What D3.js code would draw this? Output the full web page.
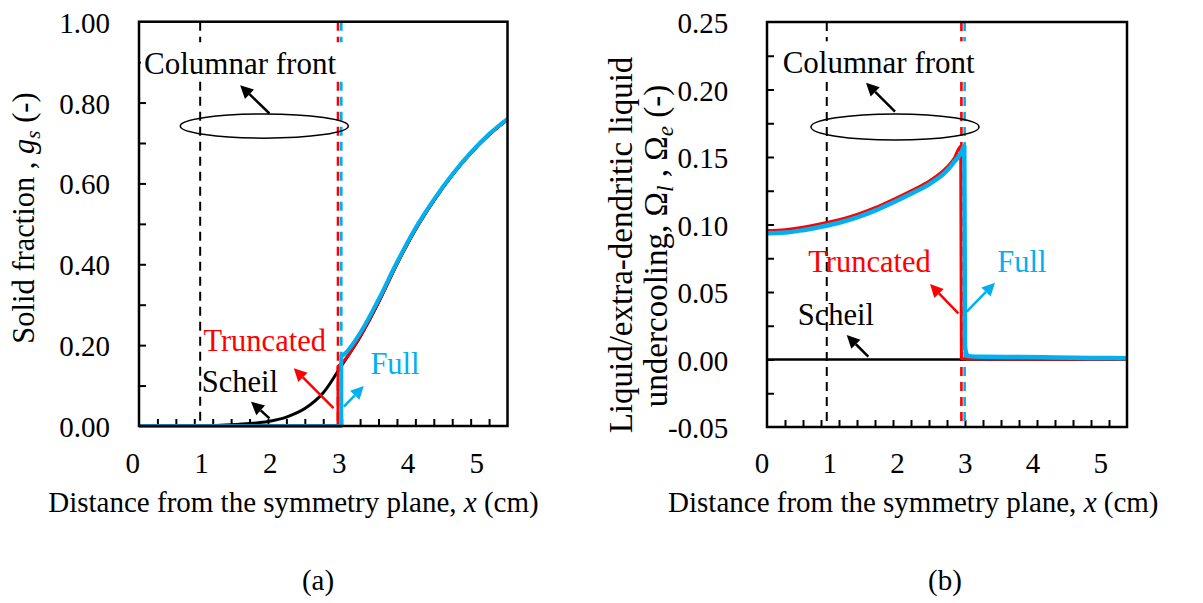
<!DOCTYPE html>
<html>
<head>
<meta charset="utf-8">
<script src="https://cdn.jsdelivr.net/npm/d3@7"></script>
<style>
  html, body { margin: 0; padding: 0; background: #fff; }
  svg { display: block; font-family: "Liberation Serif", "Times New Roman", serif; }
</style>
</head>
<body>
<svg id="fig" width="1203" height="603"></svg>
<script>
// ---------- axis ticks ----------
const xLabels = [0, 1, 2, 3, 4, 5];
const xMarks = [0.25, 0.5, 0.75, 1, 1.25, 1.5, 1.75, 2, 2.25, 2.5, 2.75, 3, 3.25, 3.5, 3.75, 4, 4.25, 4.5, 4.75];
const gsLabels = [0, 0.2, 0.4, 0.6, 0.8, 1.0];
const gsMarks = [0.1, 0.2, 0.3, 0.4, 0.5, 0.6, 0.7, 0.8, 0.9];
const omLabels = [-0.05, 0, 0.05, 0.10, 0.15, 0.20, 0.25];
const omMarks = [-0.025, 0, 0.025, 0.05, 0.075, 0.10, 0.125, 0.15, 0.175, 0.20, 0.225];

// ---------- (a) solid fraction ----------
const scheilX  = [0, 0.5, 1.0, 1.25, 1.5, 1.75, 2.0, 2.25, 2.5, 2.75, 3.0, 3.25, 3.5, 3.75, 4.0, 4.25, 4.5, 4.75, 5.0];
const scheilGs = [0, 0, 0.001, 0.003, 0.006, 0.011, 0.022, 0.043, 0.082, 0.150, 0.220, 0.305, 0.400, 0.485, 0.557, 0.620, 0.674, 0.720, 0.758];
const truncX  = [0, 2.70, 2.70, 2.75, 3.0, 3.25, 3.5, 3.75, 4.0, 4.25, 4.5, 4.75, 5.0];
const truncGs = [0, 0, 0.148, 0.155, 0.222, 0.307, 0.401, 0.486, 0.558, 0.621, 0.675, 0.721, 0.758];
const fullX  = [0, 2.745, 2.745, 2.8, 3.0, 3.25, 3.5, 3.75, 4.0, 4.25, 4.5, 4.75, 5.0];
const fullGs = [0, 0, 0.172, 0.180, 0.230, 0.313, 0.405, 0.489, 0.560, 0.622, 0.676, 0.722, 0.760];

// ---------- (b) undercooling ----------
const scheilOmX = [0, 5];
const scheilOm  = [0, 0];
const truncOmX = [0, 0.25, 0.5, 0.75, 1.0, 1.25, 1.5, 1.75, 2.0, 2.25, 2.5, 2.6, 2.69, 2.70, 5.0];
const truncOm  = [0.0955, 0.0962, 0.098, 0.1005, 0.1035, 0.1075, 0.1125, 0.1185, 0.125, 0.132, 0.1425, 0.149, 0.158, 0.0005, 0.0003];
const fullOmX = [0, 0.25, 0.5, 0.75, 1.0, 1.25, 1.5, 1.75, 2.0, 2.25, 2.5, 2.6, 2.7, 2.74, 2.75, 2.77, 2.8, 3.0, 3.5, 4.0, 4.5, 5.0];
const fullOm  = [0.0935, 0.094, 0.0958, 0.0983, 0.1013, 0.1053, 0.1103, 0.1163, 0.1228, 0.1298, 0.1400, 0.1465, 0.1535, 0.158, 0.010, 0.004, 0.0025, 0.002, 0.0018, 0.0015, 0.0012, 0.0009];

// columnar front positions (Scheil / truncated / full)
const frontX = [0.83, 2.70, 2.745];

const BLUE = "#00b0f0", RED = "#ff0000", BLACK = "#000";
const svg = d3.select("#fig");
const fmt2 = d => d.toFixed(2);

// Builds one path; equal consecutive x values become straight vertical steps,
// everything else is drawn as a smooth monotone curve.
function seriesPath(xs, ys, x, y) {
  const pts = xs.map((v, i) => [x(v), y(ys[i])]);
  const runs = [];
  let run = [pts[0]];
  for (let i = 1; i < pts.length; i++) {
    if (xs[i] === xs[i - 1]) {
      runs.push(run);
      runs.push([pts[i - 1], pts[i]]);
      run = [pts[i]];
    } else run.push(pts[i]);
  }
  runs.push(run);
  const gen = d3.line().curve(d3.curveMonotoneX);
  let d = "";
  runs.forEach(r => {
    if (r.length < 2) return;
    const s = gen(r);
    d += d ? s.replace(/^M/, "L") : s;
  });
  return d;
}

function arrow(g, x, y, a, color) {
  const x1 = x(a[0]), y1 = y(a[1]), x2 = x(a[2]), y2 = y(a[3]);
  const ang = Math.atan2(y2 - y1, x2 - x1);
  const L = 13, W = 6.5;
  const bx = x2 - L * Math.cos(ang), by = y2 - L * Math.sin(ang);
  g.append("line").attr("x1", x1).attr("y1", y1).attr("x2", bx).attr("y2", by)
    .attr("stroke", color).attr("stroke-width", 2.5);
  g.append("path")
    .attr("d", `M${x2},${y2}L${bx + W * Math.sin(ang)},${by - W * Math.cos(ang)}L${bx - W * Math.sin(ang)},${by + W * Math.cos(ang)}Z`)
    .attr("fill", color);
}

function panel(cfg) {
  const g = svg.append("g");
  const x = d3.scaleLinear().domain([0, 5]).range(cfg.xr);
  const y = d3.scaleLinear().domain(cfg.yd).range(cfg.yr);
  const xLab = d3.scaleLinear().domain([0, 5]).range(cfg.xLabR);

  // inward tick marks
  g.append("g").attr("transform", `translate(0,${cfg.yr[0]})`)
    .call(d3.axisBottom(x).tickValues(xMarks).tickSize(-7).tickFormat(""))
    .call(s => s.select(".domain").remove())
    .call(s => s.selectAll("line").attr("stroke", BLACK).attr("stroke-width", 2));
  g.append("g").attr("transform", `translate(${cfg.xr[0]},0)`)
    .call(d3.axisLeft(y).tickValues(cfg.yMarks).tickSize(-7).tickFormat(""))
    .call(s => s.select(".domain").remove())
    .call(s => s.selectAll("line").attr("stroke", BLACK).attr("stroke-width", 2));

  // tick labels
  g.append("g").selectAll("text").data(xLabels).join("text")
    .attr("x", d => xLab(d)).attr("y", 473).attr("text-anchor", "middle")
    .attr("font-size", 29).text(d => d);
  g.append("g").selectAll("text").data(cfg.yLabels).join("text")
    .attr("x", cfg.yLabX).attr("y", d => y(d) + 11).attr("text-anchor", "end")
    .attr("font-size", 29).text(fmt2);

  // columnar front markers
  const dashCol = [BLACK, RED, BLUE];
  frontX.forEach((fx, i) => {
    g.append("line").attr("x1", x(fx)).attr("x2", x(fx))
      .attr("y1", cfg.yr[1]).attr("y2", cfg.yr[0])
      .attr("stroke", dashCol[i]).attr("stroke-width", i === 0 ? 2 : 2.6)
      .attr("stroke-dasharray", "9,6");
  });

  // curves
  cfg.series.forEach(s => {
    g.append("path").attr("d", seriesPath(s.x, s.y, x, y))
      .attr("fill", "none").attr("stroke", s.color).attr("stroke-width", s.w)
      .attr("stroke-linejoin", "round").attr("stroke-linecap", "butt");
  });

  // frame
  g.append("rect").attr("x", cfg.xr[0]).attr("y", cfg.yr[1])
    .attr("width", cfg.xr[1] - cfg.xr[0]).attr("height", cfg.yr[0] - cfg.yr[1])
    .attr("fill", "none").attr("stroke", BLACK).attr("stroke-width", 2.5);

  // annotations
  const e = cfg.ellipse;
  g.append("ellipse").attr("cx", x(e[0])).attr("cy", y(e[1]))
    .attr("rx", x(e[0] + e[2]) - x(e[0])).attr("ry", y(e[1]) - y(e[1] + e[3]))
    .attr("fill", "none").attr("stroke", BLACK).attr("stroke-width", 1.5);
  cfg.arrows.forEach(a => arrow(g, x, y, a.p, a.color));

  const ct = g.append("text").attr("x", x(cfg.front[0])).attr("y", y(cfg.front[1]))
    .attr("font-size", 31).attr("fill", BLACK).text("Columnar front");
  const bb = ct.node().getBBox();
  g.insert("rect", () => ct.node())
    .attr("x", bb.x - 3).attr("y", bb.y - 4).attr("width", bb.width + 11).attr("height", bb.height + 3)
    .attr("fill", "#fff");

  cfg.labels.forEach(l => {
    g.append("text").attr("x", x(l.p[0])).attr("y", y(l.p[1]))
      .attr("font-size", 30.5).attr("fill", l.color).text(l.t);
  });

  // x title and panel tag
  g.append("text").attr("x", cfg.titleX).attr("y", 512).attr("text-anchor", "middle")
    .attr("font-size", 29)
    .call(t => {
      t.append("tspan").text("Distance from the symmetry plane, ");
      t.append("tspan").attr("font-style", "italic").text("x");
      t.append("tspan").text(" (cm)");
    });
  g.append("text").attr("x", cfg.tagX).attr("y", 590).attr("text-anchor", "middle")
    .attr("font-size", 29).text(cfg.tag);
  return g;
}

// (a)
panel({
  xr: [139, 507.5], yd: [0, 1], yr: [426, 21.7],
  xLabR: [132.8, 476.7], yMarks: gsMarks, yLabels: gsLabels, yLabX: 110,
  series: [
    { x: scheilX, y: scheilGs, color: BLACK, w: 3 },
    { x: truncX, y: truncGs, color: RED, w: 3 },
    { x: fullX, y: fullGs, color: BLUE, w: 4 }
  ],
  ellipse: [1.70, 0.742, 1.14, 0.030],
  arrows: [
    { p: [1.77, 0.773, 1.372, 0.843], color: BLACK },
    { p: [2.64, 0.044, 2.10, 0.143], color: RED },
    { p: [2.78, 0.048, 3.05, 0.099], color: BLUE },
    { p: [1.77, 0.019, 1.52, 0.060], color: BLACK }
  ],
  front: [0.068, 0.870],
  labels: [
    { t: "Truncated", p: [0.874, 0.186], color: RED },
    { t: "Scheil", p: [0.852, 0.085], color: BLACK },
    { t: "Full", p: [3.14, 0.128], color: BLUE }
  ],
  titleX: 293.5, tagX: 318, tag: "(a)"
});

// (b)
panel({
  xr: [767, 1127], yd: [-0.05, 0.25], yr: [427, 22],
  xLabR: [762, 1100.8], yMarks: omMarks, yLabels: omLabels, yLabX: 728.3,
  series: [
    { x: scheilOmX, y: scheilOm, color: BLACK, w: 2.5 },
    { x: truncOmX, y: truncOm, color: RED, w: 3 },
    { x: fullOmX, y: fullOm, color: BLUE, w: 4.5 }
  ],
  ellipse: [1.778, 0.1722, 1.167, 0.0096],
  arrows: [
    { p: [1.778, 0.1836, 1.375, 0.205], color: BLACK },
    { p: [2.657, 0.0341, 2.264, 0.0559], color: RED },
    { p: [2.774, 0.0354, 3.167, 0.0569], color: BLUE },
    { p: [1.407, 0.0021, 1.107, 0.0181], color: BLACK }
  ],
  front: [0.218, 0.212],
  labels: [
    { t: "Truncated", p: [0.574, 0.065], color: RED },
    { t: "Full", p: [3.199, 0.065], color: BLUE },
    { t: "Scheil", p: [0.426, 0.0256], color: BLACK }
  ],
  titleX: 913.3, tagX: 945, tag: "(b)"
});

// y-axis titles
svg.append("text").attr("transform", "translate(34,218) rotate(-90)")
  .attr("text-anchor", "middle").attr("font-size", 30.5)
  .call(t => {
    t.append("tspan").text("Solid fraction , ");
    t.append("tspan").attr("font-style", "italic").text("g");
    t.append("tspan").attr("font-style", "italic").attr("font-size", 21).attr("dy", 6).text("s");
    t.append("tspan").attr("dy", -6).text(" (-)");
  });

svg.append("text").attr("transform", "translate(632,245) rotate(-90)")
  .attr("text-anchor", "middle").attr("font-size", 33)
  .text("Liquid/extra-dendritic liquid");
svg.append("text").attr("transform", "translate(667,246) rotate(-90)")
  .attr("text-anchor", "middle").attr("font-size", 33)
  .call(t => {
    t.append("tspan").text("undercooling, Ω");
    t.append("tspan").attr("font-style", "italic").attr("font-size", 23).attr("dy", 6).text("l");
    t.append("tspan").attr("dy", -6).text(" , Ω");
    t.append("tspan").attr("font-style", "italic").attr("font-size", 23).attr("dy", 6).text("e");
    t.append("tspan").attr("dy", -6).text(" (-)");
  });
</script>
</body>
</html>
